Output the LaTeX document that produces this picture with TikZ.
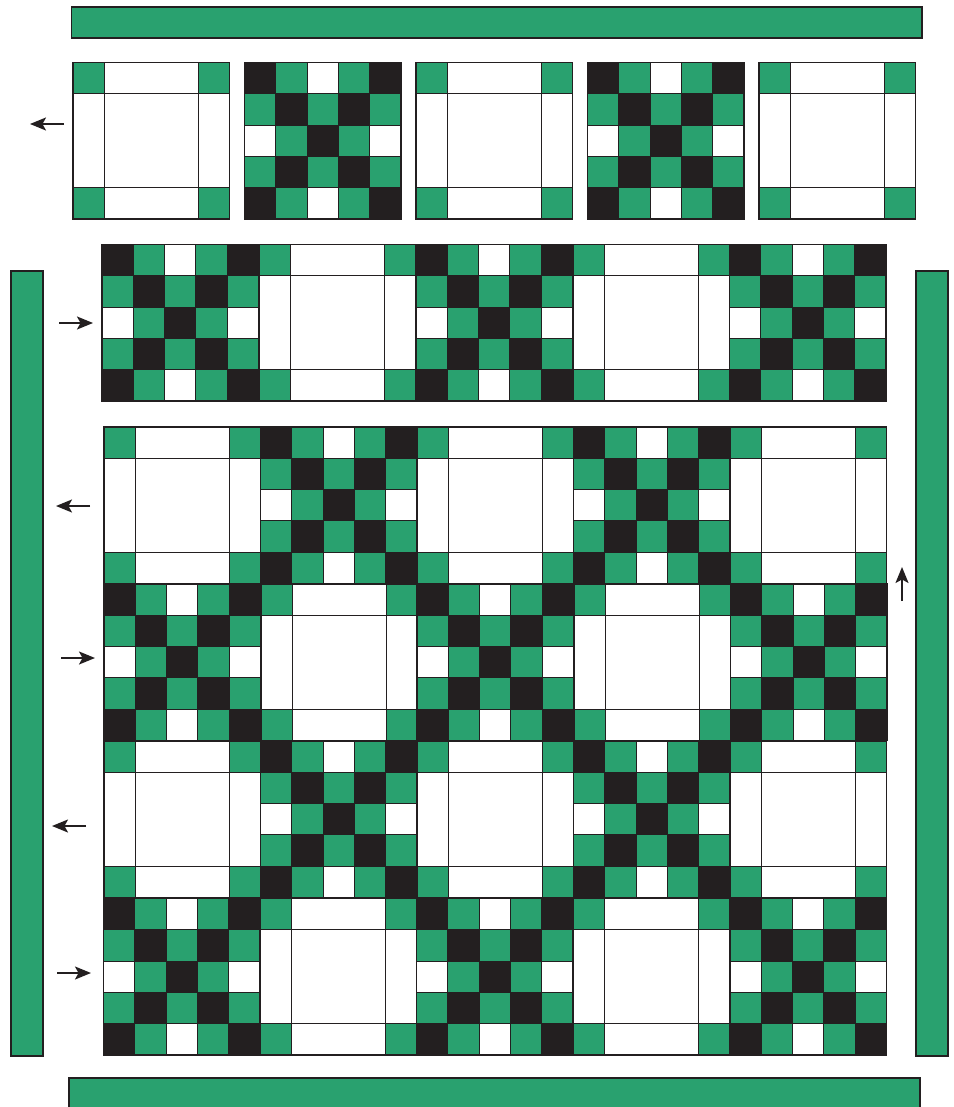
\documentclass[tikz,border=0pt]{standalone}
\usetikzlibrary{arrows.meta}
\definecolor{qgreen}{HTML}{29A16F}
\definecolor{qblack}{HTML}{231F20}
\tikzset{
  x=1pt,y=-1pt,
  patch/.style={draw=qblack,line width=1.1pt},
  gpatch/.style={patch,fill=qgreen},
  kpatch/.style={patch,fill=qblack},
  wpatch/.style={patch,fill=white},
  flow/.style={draw=qblack,line width=1.7pt,-{Stealth[length=16pt,width=13pt,inset=3.5pt]}}
}
% block with corner squares
\newcommand{\frameblock}[2]{%
  \begin{scope}[shift={(#1,#2)}]
    \foreach \a/\b in {0/0,125.2/0,0/125.2,125.2/125.2}
      \draw[gpatch] (\a,\b) rectangle ++(31.3,31.3);
    \draw[wpatch] (31.3,0) rectangle (125.2,31.3);
    \draw[wpatch] (31.3,125.2) rectangle (125.2,156.5);
    \draw[wpatch] (0,31.3) rectangle (31.3,125.2);
    \draw[wpatch] (125.2,31.3) rectangle (156.5,125.2);
    \draw[wpatch] (31.3,31.3) rectangle (125.2,125.2);
  \end{scope}}
% five-by-five checker block
\newcommand{\checkblock}[2]{%
  \begin{scope}[shift={(#1,#2)}]
    \foreach \a/\b/\s in {
      0/0/k,1/0/g,2/0/w,3/0/g,4/0/k,
      0/1/g,1/1/k,2/1/g,3/1/k,4/1/g,
      0/2/w,1/2/g,2/2/k,3/2/g,4/2/w,
      0/3/g,1/3/k,2/3/g,3/3/k,4/3/g,
      0/4/k,1/4/g,2/4/w,3/4/g,4/4/k}
      \draw[\s patch] (\a*31.3,\b*31.3) rectangle ++(31.3,31.3);
  \end{scope}}
\begin{document}
\begin{tikzpicture}
\useasboundingbox (0,0) rectangle (953,1107);
% border strips
\draw[gpatch] (71.5,7) rectangle (922,38);
\draw[gpatch] (69,1078) rectangle (920,1112);
\draw[gpatch] (11,271) rectangle (43,1056);
\draw[gpatch] (916,271) rectangle (948,1056);
% top row
\frameblock{73}{62.5}
\checkblock{244.5}{62.5}
\frameblock{416}{62.5}
\checkblock{587.5}{62.5}
\frameblock{759}{62.5}
% second row
\checkblock{102}{244.5}
\frameblock{259}{244.5}
\checkblock{416}{244.5}
\frameblock{573}{244.5}
\checkblock{729.5}{244.5}
% third row
\frameblock{104}{427}
\checkblock{260.5}{427}
\frameblock{417}{427}
\checkblock{573.5}{427}
\frameblock{730}{427}
% fourth row
\checkblock{104}{584}
\frameblock{261}{584}
\checkblock{417}{584}
\frameblock{574}{584}
\checkblock{730.5}{584}
% fifth row
\frameblock{104}{741}
\checkblock{260.5}{741}
\frameblock{417}{741}
\checkblock{573.5}{741}
\frameblock{730}{741}
% sixth row
\checkblock{103.5}{898.5}
\frameblock{260}{898.5}
\checkblock{416.5}{898.5}
\frameblock{573}{898.5}
\checkblock{730}{898.5}
% arrows
\coordinate (a1s) at (64,124);  \coordinate (a1e) at (30,124);
\coordinate (a2s) at (59,323);  \coordinate (a2e) at (93,323);
\coordinate (a3s) at (90,506);  \coordinate (a3e) at (56,506);
\coordinate (a4s) at (61,658);  \coordinate (a4e) at (95,658);
\coordinate (a5s) at (86,826);  \coordinate (a5e) at (52,826);
\coordinate (a6s) at (57,973);  \coordinate (a6e) at (91,973);
\coordinate (a7s) at (902,601); \coordinate (a7e) at (902,567);
\foreach \n in {1,...,7} \draw[flow] (a\n s) -- (a\n e);
\end{tikzpicture}
\end{document}
